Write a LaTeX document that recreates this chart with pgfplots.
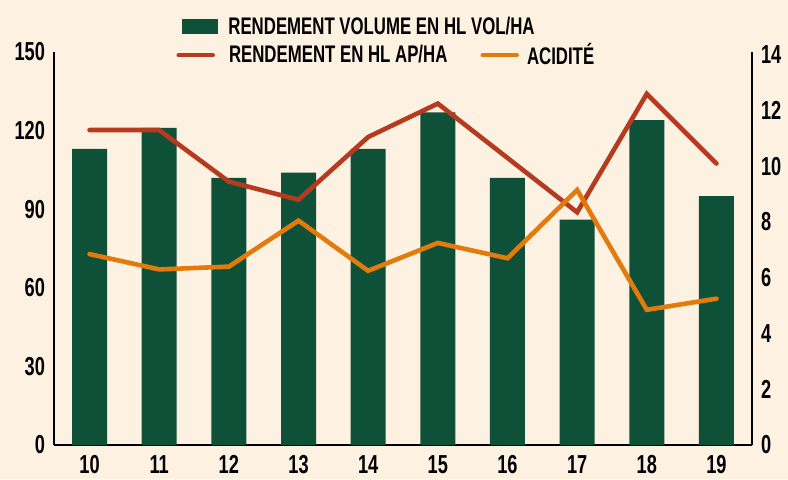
\documentclass[border=0pt]{standalone}
\usepackage{fontspec}
\setmainfont{Liberation Sans}[FakeStretch=0.70]
\usepackage{pgfplots}
\pgfplotsset{compat=1.18}

\definecolor{bgcol}{HTML}{FDF1E2}
\definecolor{barcol}{HTML}{0F5039}
\definecolor{redcol}{HTML}{B53A1F}
\definecolor{orgcol}{HTML}{E27B0B}

\pgfplotsset{
  chart/.style={
    at={(0,0)}, anchor=south west,
    scale only axis, width=349pt, height=196.5pt,
    xmin=-0.51, xmax=9.51, ymin=0,
    axis line style={-, black, line width=0.6pt},
    major tick length=0pt,
    tick label style={font=\bfseries\fontsize{13}{15}\selectfont},
    /pgf/number format/assume math mode=true,
    legend cell align=left,
  },
}

\begin{document}
\begin{tikzpicture}
\path[use as bounding box, fill=bgcol] (-27pt,-17pt) rectangle (367pt,222.5pt);

% volume (left axis)
\begin{axis}[chart,
  ymax=150,
  axis x line*=bottom, axis y line*=left,
  xtick={0,...,9},
  xticklabels={10,11,12,13,14,15,16,17,18,19},
  xticklabel style={yshift=-1.8pt},
  ytick={0,30,...,150},
  yticklabel style={xshift=-1pt},
  legend style={at={(0.1834,1.064)}, anchor=west, draw=none, fill=none,
    inner sep=0pt, font=\bfseries\fontsize{12}{14}\selectfont},
]
\addplot[ybar, bar width=17.5pt, fill=barcol, draw=none,
  legend image code/.code={\fill[barcol] (0pt,-3.75pt) rectangle (18pt,3.75pt); \path (21pt,0pt);}]
  coordinates {(0,113) (1,121) (2,102) (3,104) (4,113) (5,127) (6,102) (7,86) (8,124) (9,95)};
\addlegendentry{RENDEMENT VOLUME EN HL VOL/HA}
\end{axis}

% alcool pur et acidite (right axis)
\begin{axis}[chart,
  ymax=14.1,
  axis x line=none, axis y line*=right,
  xtick=\empty,
  ytick={0,2,...,14},
  yticklabel style={xshift=1pt},
  legend columns=2,
  legend style={at={(0.1748,0.992)}, anchor=west, draw=none, fill=none,
    inner sep=0pt, font=\bfseries\fontsize{12}{14}\selectfont,
    /tikz/every even column/.append style={column sep=14.5pt}},
]
\addplot[redcol, line width=2.3pt, line cap=round, line join=miter,
  legend image code/.code={\draw[redcol, line width=2.3pt, line cap=round] (0pt,0pt) -- (17pt,0pt); \path (22pt,0pt);}]
  coordinates {(0,11.3) (1,11.3) (2,9.45) (3,8.8) (4,11.05) (5,12.25) (6,10.3) (7,8.35) (8,12.6) (9,10.1)};
\addlegendentry{RENDEMENT EN HL AP/HA}
\addplot[orgcol, line width=2.3pt, line cap=round, line join=miter,
  legend image code/.code={\draw[orgcol, line width=2.3pt, line cap=round] (0pt,0pt) -- (17pt,0pt); \path (19pt,0pt);}]
  coordinates {(0,6.85) (1,6.3) (2,6.4) (3,8.05) (4,6.25) (5,7.25) (6,6.7) (7,9.15) (8,4.85) (9,5.25)};
\addlegendentry{ACIDITÉ}
\end{axis}
\end{tikzpicture}
\end{document}
